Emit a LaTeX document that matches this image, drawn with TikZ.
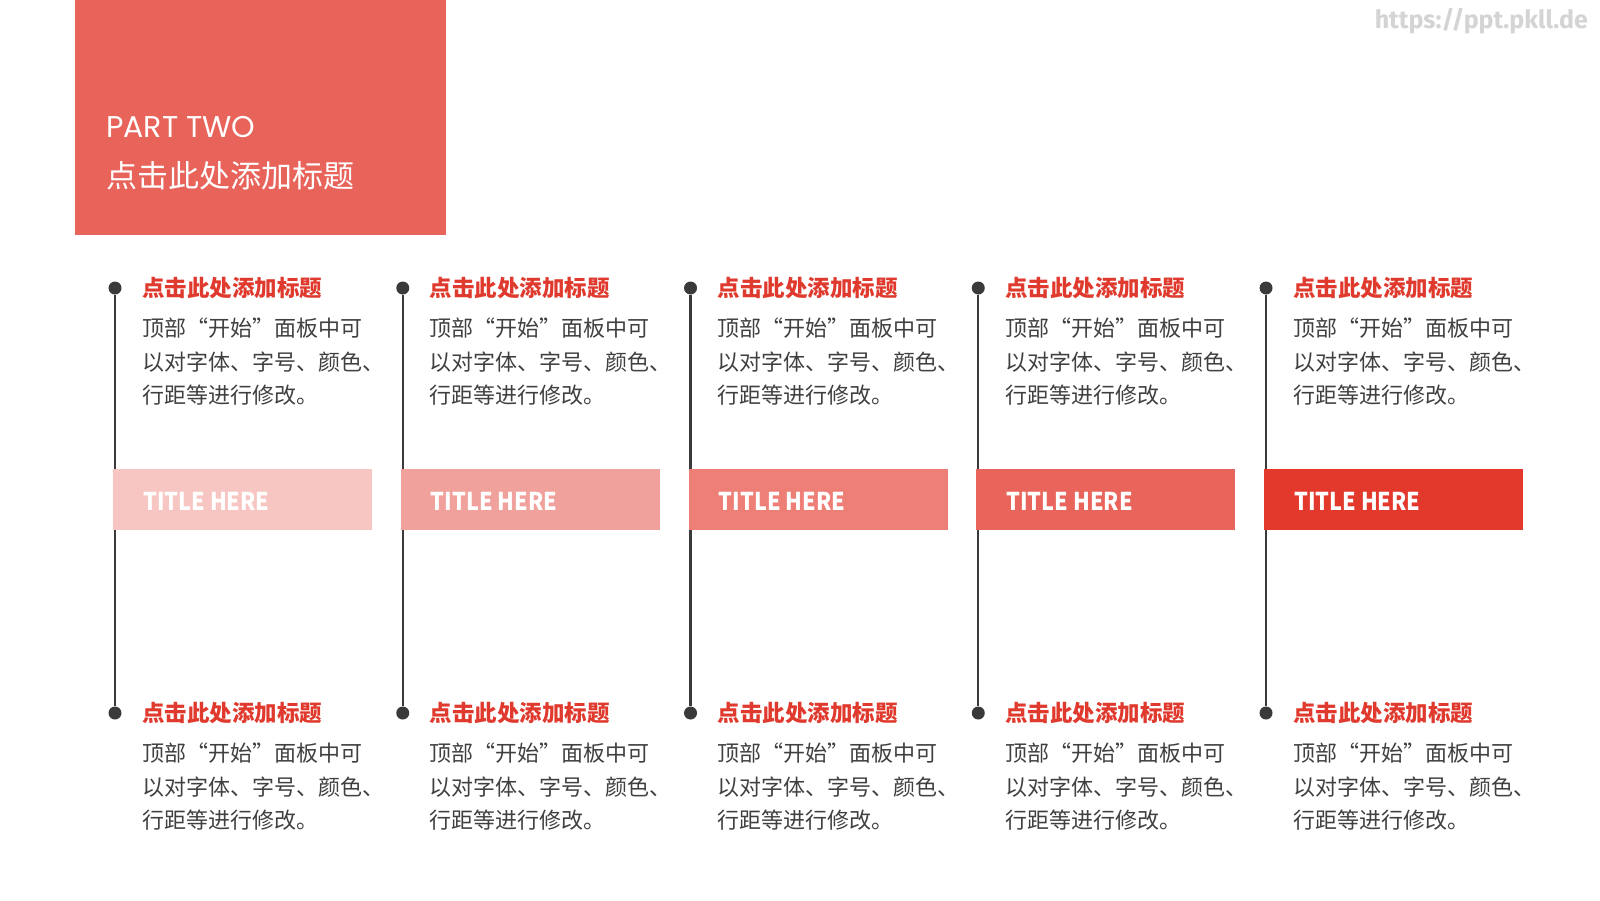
\documentclass[tikz,border=0pt]{standalone}
\usepackage{fontspec}
\setmainfont{Noto Sans CJK SC}
\newfontfamily\cjkfont{Noto Sans CJK SC}
\newfontfamily\popfont{Poppins}
\newfontfamily\wmfont{Fira Sans}
\definecolor{hdrred}{HTML}{E8635A}
\definecolor{titlered}{HTML}{E03A2E}
\definecolor{bodygray}{HTML}{404040}
\definecolor{linegray}{HTML}{3A3A3A}
\definecolor{wmgray}{HTML}{D4D4D4}
\definecolor{barA}{HTML}{F7C6C2}
\definecolor{barB}{HTML}{F1A19B}
\definecolor{barC}{HTML}{EE7F77}
\definecolor{barD}{HTML}{E9645B}
\definecolor{barE}{HTML}{E3392D}
\tikzset{
  hdrbox/.style={fill=hdrred, draw=none, inner sep=0, minimum width=371pt, minimum height=235pt, anchor=north west},
  dotnode/.style={circle, fill=linegray, draw=none, inner sep=0, minimum size=13pt},
  vline/.style={draw=linegray, line width=2.2pt},
  barbox/.style={draw=none, inner sep=0, minimum width=259pt, minimum height=61pt, anchor=north west},
  bartext/.style={text=white, inner sep=0, anchor=base west, font=\cjkfont\bfseries\fontsize{24.5}{26}\selectfont},
  coltitle/.style={text=titlered, inner sep=0, anchor=base west, font=\cjkfont\bfseries\fontsize{22.5}{24}\selectfont},
  bodyline/.style={text=bodygray, inner sep=0, anchor=base west, font=\cjkfont\fontsize{22}{24}\selectfont},
}
\begin{document}
\begin{tikzpicture}[x=1pt,y=-1pt]
\useasboundingbox (0,0) rectangle (1600,900);
\fill[white] (0,0) rectangle (1600,900);
% header
\node[hdrbox] (hdr) at (75,0) {};
\node[text=white, inner sep=0, anchor=base west, font=\popfont\fontsize{30}{32}\selectfont] (part) at (106,137) {PART TWO};
\node[text=white, inner sep=0, anchor=base west, font=\cjkfont\fontsize{31}{33}\selectfont] (htitle) at (106,187.5) {点击此处添加标题};
% watermark
\node[text=wmgray, inner sep=0, anchor=base east, font=\wmfont\bfseries\fontsize{25}{27}\selectfont] (wm) at (1588,28) {https://ppt.pkll.de};
% columns
\foreach \i/\bc in {0/barA,1/barB,2/barC,3/barD,4/barE}{
  \pgfmathsetmacro{\cx}{115+287.75*\i}
  \node[dotnode] (top\i) at (\cx,288) {};
  \node[dotnode] (bot\i) at (\cx,713) {};
  \draw[vline] (top\i) -- (bot\i);
  \node[barbox, fill=\bc] (bar\i) at (\cx-2,469) {};
  \node[bartext] (bt\i) at (\cx+28,510) {\scalebox{0.885}[1]{TITLE HERE}};
  % top group
  \node[coltitle] (tt\i) at (\cx+27,296.5) {点击此处添加标题};
  \node[bodyline] (ta\i) at (\cx+27,336.5) {顶部“开始”面板中可};
  \node[bodyline] (tb\i) at (\cx+27,370.5) {以对字体、字号、颜色、};
  \node[bodyline] (tc\i) at (\cx+27,403.5) {行距等进行修改。};
  % bottom group
  \node[coltitle] (bt2\i) at (\cx+27,721) {点击此处添加标题};
  \node[bodyline] (ba\i) at (\cx+27,761.5) {顶部“开始”面板中可};
  \node[bodyline] (bb\i) at (\cx+27,795.5) {以对字体、字号、颜色、};
  \node[bodyline] (bc\i) at (\cx+27,828.5) {行距等进行修改。};
}
\end{tikzpicture}
\end{document}
